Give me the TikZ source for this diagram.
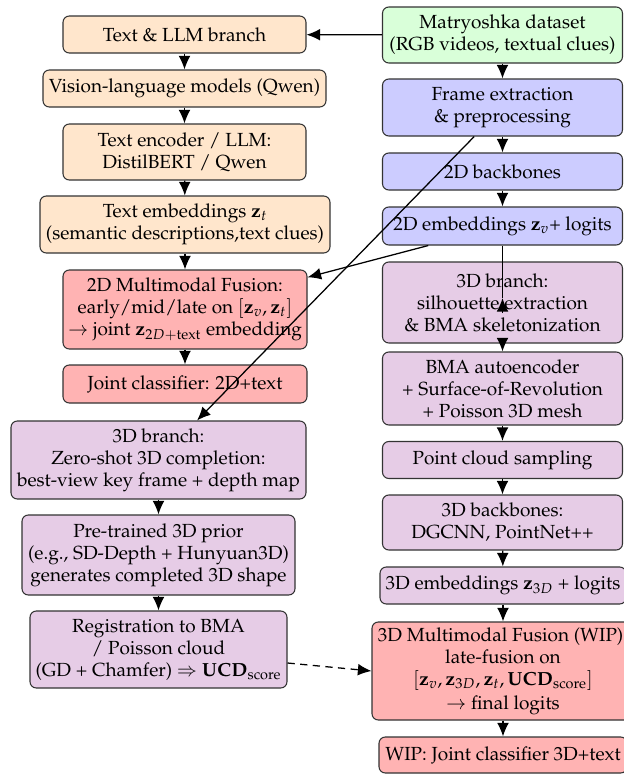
\documentclass[tikz,border=0pt]{standalone}
\usepackage{amsmath}
\usepackage[T1]{fontenc}
\usepackage{mathpazo}
\usetikzlibrary{arrows.meta}
\def\pxu{0.553pt}
\definecolor{cOr}{RGB}{255,230,204}
\definecolor{cGr}{RGB}{217,255,217}
\definecolor{cBl}{RGB}{204,204,255}
\definecolor{cPu}{RGB}{230,204,230}
\definecolor{cRe}{RGB}{255,179,179}
\tikzset{
  box/.style={draw=black!80, rounded corners=3.5pt, line width=0.6pt, align=center, inner sep=1pt, font=\fontsize{10.5}{12.2}\selectfont},
  arr/.style={line width=0.7pt, -{Latex[length=7.5pt,width=6.5pt]}},
}
\begin{document}
\begin{tikzpicture}[x=\pxu, y=-\pxu]
\useasboundingbox (0,0) rectangle (623,774);
% left column
\node[box, fill=cOr, minimum width={243*\pxu}, minimum height={37*\pxu}] (tl) at (184.5,34.5) {Text \& LLM branch};
\node[box, fill=cOr, minimum width={283*\pxu}, minimum height={37*\pxu}] (vlm) at (184.5,88.5) {Vision-language models (Qwen)};
\node[box, fill=cOr, minimum width={243*\pxu}, minimum height={56*\pxu}] (tenc) at (184.5,152) {Text encoder / LLM:\\ DistilBERT / Qwen};
\node[box, fill=cOr, minimum width={290*\pxu}, minimum height={57*\pxu}] (temb) at (185,224.5) {Text embeddings $\mathbf{z}_t$\\ (semantic descriptions,text clues)};
\node[box, fill=cRe, minimum width={244*\pxu}, minimum height={79*\pxu}] (f2d) at (185,309.5) {2D Multimodal Fusion:\\ early/mid/late on $[\mathbf{z}_v, \mathbf{z}_t]$\\ $\rightarrow$ joint $\mathbf{z}_{2D+\text{text}}$ embedding};
\node[box, fill=cRe, minimum width={244*\pxu}, minimum height={38*\pxu}] (jc) at (185,384) {Joint classifier: 2D+text};
\node[box, fill=cPu, minimum width={295*\pxu}, minimum height={78*\pxu}] (b3l) at (158.5,460) {3D branch:\\ Zero-shot 3D completion:\\ best-view key frame + depth map};
\node[box, fill=cPu, minimum width={273*\pxu}, minimum height={80*\pxu}] (prior) at (158.5,555) {Pre-trained 3D prior\\ (e.g., SD-Depth + Hunyuan3D)\\ generates completed 3D shape};
\node[box, fill=cPu, minimum width={257*\pxu}, minimum height={77*\pxu}] (reg) at (158.5,649.5) {Registration to BMA\\ / Poisson cloud\\ (GD + Chamfer) $\Rightarrow$ $\mathbf{UCD}_{\text{score}}$};
% right column
\node[box, fill=cGr, minimum width={240*\pxu}, minimum height={56*\pxu}] (data) at (502.5,35) {Matryoshka dataset\\ (RGB videos, textual clues)};
\node[box, fill=cBl, minimum width={240*\pxu}, minimum height={57*\pxu}] (frame) at (502.5,107.5) {Frame extraction\\ \& preprocessing};
\node[box, fill=cBl, minimum width={240*\pxu}, minimum height={37*\pxu}] (bb2) at (502.5,171.5) {2D backbones};
\node[box, fill=cBl, minimum width={240*\pxu}, minimum height={38*\pxu}] (emb) at (502.5,226) {2D embeddings $\mathbf{z}_v$+ logits};
\node[box, fill=cPu, minimum width={240*\pxu}, minimum height={81*\pxu}] (b3r) at (502.5,302.5) {3D branch:\\ silhouette extraction\\ \& BMA skeletonization};
\node[box, fill=cPu, minimum width={240*\pxu}, minimum height={73*\pxu}] (bma) at (502.5,388.5) {BMA autoencoder\\ + Surface-of-Revolution\\ + Poisson 3D mesh};
\node[box, fill=cPu, minimum width={240*\pxu}, minimum height={37*\pxu}] (pc) at (502.5,460) {Point cloud sampling};
\node[box, fill=cPu, minimum width={240*\pxu}, minimum height={55*\pxu}] (bb3) at (502.5,522.5) {3D backbones:\\ DGCNN, PointNet++};
\node[box, fill=cPu, minimum width={246*\pxu}, minimum height={37*\pxu}] (emb3) at (503,585.5) {3D embeddings $\mathbf{z}_{3D}$ + logits};
\node[box, fill=cRe, minimum width={262*\pxu}, minimum height={98*\pxu}] (f3d) at (503,671) {3D Multimodal Fusion (WIP):\\ late-fusion on\\ $[\mathbf{z}_v, \mathbf{z}_{3D}, \mathbf{z}_t, \mathbf{UCD}_{\text{score}}]$\\[1pt] $\rightarrow$ final logits};
\node[box, fill=cRe, minimum width={248*\pxu}, minimum height={36*\pxu}] (wip) at (503,755) {WIP: Joint classifier 3D+text};
% connectors
\draw[arr] (data) -- (tl);
\draw[arr] (tl) -- (vlm);
\draw[arr] (vlm) -- (tenc);
\draw[arr] (tenc) -- (temb);
\draw[arr] (temb) -- (f2d);
\draw[arr] (f2d) -- (jc);
\draw[arr] (b3l) -- (prior);
\draw[arr] (prior) -- (reg);
\draw[arr] (data) -- (frame);
\draw[arr] (frame) -- (bb2);
\draw[arr] (bb2) -- (emb);
\draw[arr] (b3r) -- (bma);
\draw[arr] (bma) -- (pc);
\draw[arr] (pc) -- (bb3);
\draw[arr] (bb3) -- (emb3);
\draw[arr] (emb3) -- (f3d);
\draw[arr] (f3d) -- (wip);
\draw[arr] (frame) -- (b3l);
\draw[arr] (emb) -- (f2d);
\coordinate (tipA) at (502.5,298);
\coordinate (tipB) at (502.5,313);
\draw[line width=0.7pt] (emb.south) -- (tipA);
\draw[arr] (tipB) -- (tipA);
\draw[arr, dash pattern=on 4pt off 3pt] (reg.east |- 0,663) -- (f3d.west |- 0,671);
\end{tikzpicture}
\end{document}
